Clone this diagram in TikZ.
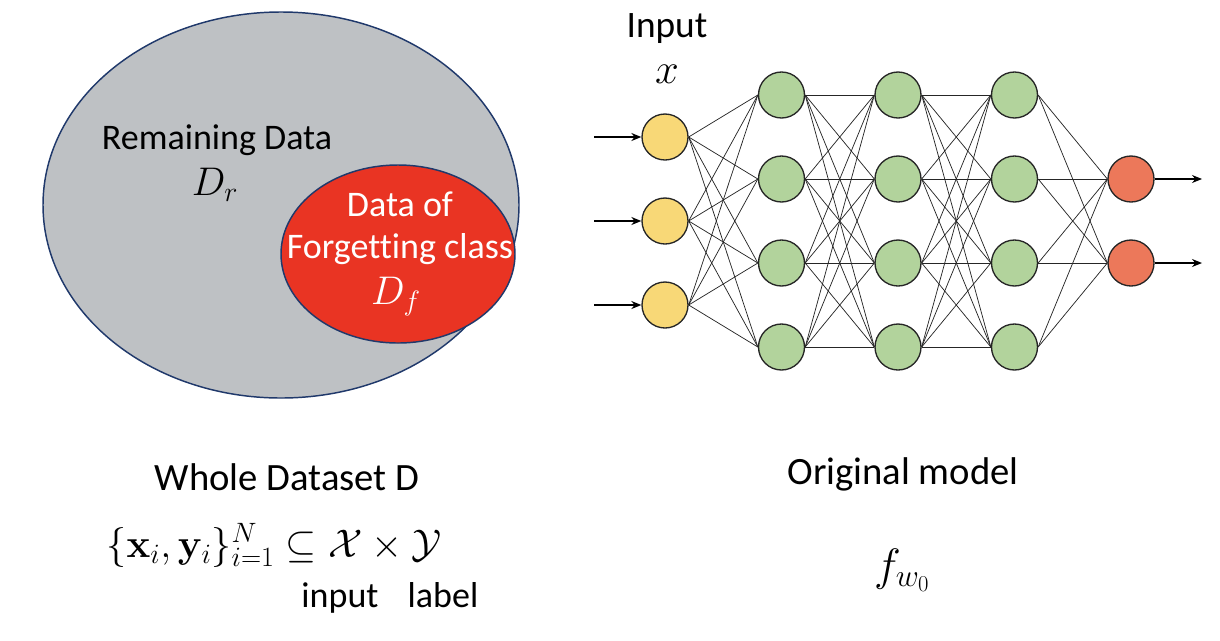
\RequirePackage{fix-cm}
\documentclass[tikz,border=0pt]{standalone}
\usepackage{amsmath}
\usepackage[no-math]{fontspec}
\setmainfont{Carlito}[Ligatures=NoCommon]
\usetikzlibrary{arrows.meta}

\definecolor{venngray}{RGB}{190,193,196}
\definecolor{vennnavy}{RGB}{32,57,107}
\definecolor{forgetred}{RGB}{233,52,35}
\definecolor{inyellow}{RGB}{248,216,119}
\definecolor{hidgreen}{RGB}{178,211,156}
\definecolor{outred}{RGB}{236,120,90}

\tikzset{every picture/.style={line width=0.75pt}}
\tikzset{
  neuron/.style={circle, draw=black!85, line width=1pt, minimum size=34.5pt, inner sep=0pt},
  inneuron/.style={neuron, fill=inyellow},
  hidneuron/.style={neuron, fill=hidgreen},
  outneuron/.style={neuron, fill=outred},
  wire/.style={line width=0.55pt, black!85},
  feed/.style={line width=0.9pt, -{Stealth[length=7.5pt,width=6pt]}},
  venntxt/.style={anchor=base, inner sep=0.75pt, font=\fontsize{27}{32}\selectfont},
  captxt/.style={anchor=base, inner sep=0.75pt, font=\fontsize{29}{34}\selectfont},
}

\begin{document}
\begin{tikzpicture}[x=0.75pt,y=0.75pt,yscale=-1,xscale=1]
\useasboundingbox (0,0) rectangle (1220,640);

%Shape: Ellipse [whole dataset]
\draw [vennnavy, line width=1.1pt, fill=venngray] (281,205) ellipse [x radius=238, y radius=193];
%Shape: Ellipse [forgetting class]
\draw [vennnavy, line width=1.1pt, fill=forgetred] (398,254) ellipse [x radius=117, y radius=89];

% Text Node
\node (remain) [venntxt] at (217,149) {Remaining Data};
% Text Node
\node (dr) [venntxt, font=\fontsize{30}{34}\selectfont] at (215,195) {$D_{r}$};
% Text Node
\node (dataof) [venntxt, white] at (400,216) {Data of};
% Text Node
\node (forget) [venntxt, white] at (400,258) {Forgetting class};
% Text Node
\node (df) [venntxt, white, font=\fontsize{30}{34}\selectfont] at (396,304) {$D_{f}$};

% Text Node
\node (whole) [captxt] at (287,490) {Whole Dataset D};
% Text Node
\node (pairs) [captxt, inner sep=0pt, font=\fontsize{30}{34}\selectfont] at (274,557) {$\{\mathbf{x}_{i},\mathbf{y}_{i}\}_{i=1}^{N}\subseteq\mathcal{X}\times\mathcal{Y}$};
% Text Node
\node (inp) [captxt, font=\fontsize{27}{32}\selectfont] at (340,607) {input};
% Text Node
\node (lab) [captxt, font=\fontsize{27}{32}\selectfont] at (443,607) {label};

%Neurons
\foreach \k in {1,2,3}
  \node (i\k) [inneuron] at (665,{137+84*(\k-1)}) {};
\foreach \k in {1,...,4} {
  \node (a\k) [hidneuron] at (781.5,{95+84*(\k-1)}) {};
  \node (b\k) [hidneuron] at (898,{95+84*(\k-1)}) {};
  \node (c\k) [hidneuron] at (1014.5,{95+84*(\k-1)}) {};
}
\foreach \k in {1,2}
  \node (o\k) [outneuron] at (1131,{179+84*(\k-1)}) {};

%Straight Lines [layers]
\foreach \s in {1,2,3}
  \foreach \t in {1,...,4}
    \draw [wire] (i\s.east) -- (a\t.west);
\foreach \s in {1,...,4}
  \foreach \t in {1,...,4} {
    \draw [wire] (a\s.east) -- (b\t.west);
    \draw [wire] (b\s.east) -- (c\t.west);
  }
\foreach \s in {1,...,4}
  \foreach \t in {1,2}
    \draw [wire] (c\s.east) -- (o\t.west);

%Straight Lines [in and out]
\foreach \k in {1,2,3} {
  \coordinate (x\k) at (594,{137+84*(\k-1)});
  \draw [feed] (x\k) -- (i\k);
}
\foreach \k in {1,2} {
  \coordinate (y\k) at (1202,{179+84*(\k-1)});
  \draw [feed] (o\k) -- (y\k);
}

% Text Node
\node (input) [captxt, font=\fontsize{28}{33}\selectfont] at (667,37) {Input};
% Text Node
\node (xin) [captxt, font=\fontsize{32}{36}\selectfont] at (667,83) {$x$};
% Text Node
\node (orig) [captxt] at (903,484) {Original model};
% Text Node
\node (fw) [captxt, font=\fontsize{34}{38}\selectfont] at (902,580) {$f_{w_{0}}$};

\end{tikzpicture}
\end{document}
